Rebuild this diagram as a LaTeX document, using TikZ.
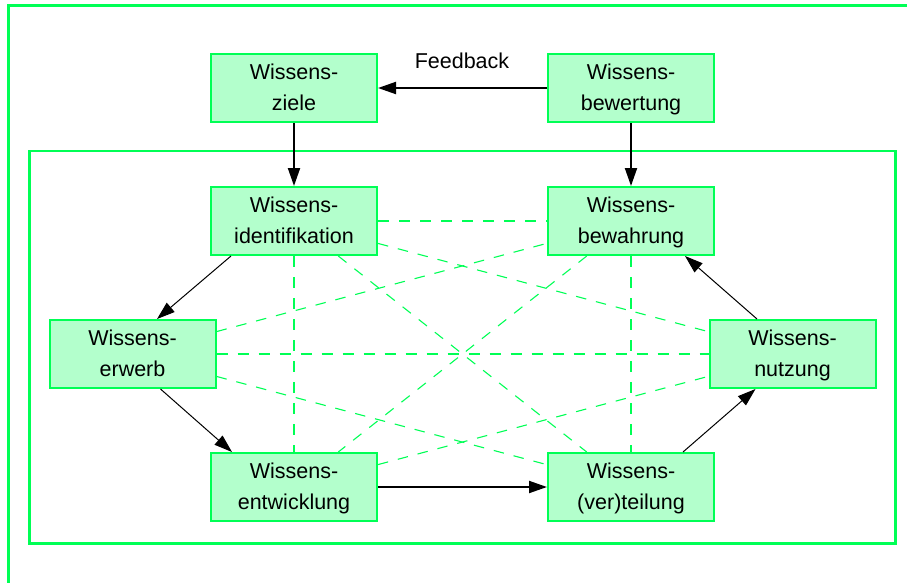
\documentclass[tikz,border=0pt]{standalone}
\usepackage{fontspec}
\setmainfont{Liberation Sans}
\usetikzlibrary{arrows.meta}
\definecolor{kgreen}{RGB}{0,255,85}
\definecolor{kfill}{RGB}{179,255,204}
% two-line box label with fixed baselines
\newcommand{\twolines}[2]{\rule{0pt}{14.5pt}\smash{#1}\\\smash{#2}}
\tikzset{
  kbox/.style={draw=kgreen, line width=2pt, fill=kfill, minimum width=166pt,
    minimum height=68pt, inner sep=0pt, align=center,
    font=\fontsize{21.5}{30.7}\selectfont},
  flow/.style={-{Triangle[length=18pt,width=12pt]}, line width=2pt},
  thinflow/.style={-{Triangle[length=18pt,width=12pt]}, line width=1pt},
  link/.style={draw=kgreen, line width=2pt, dash pattern=on 11pt off 10pt},
  thinlink/.style={draw=kgreen, line width=1.1pt, dash pattern=on 10.5pt off 10pt},
  frame/.style={draw=kgreen, line width=2.5pt},
}
\begin{document}
\begin{tikzpicture}[x=1pt, y=-1pt]
\useasboundingbox (0,0) rectangle (907,582);

% frames
\draw[frame] (8.5,600) -- (8.5,5.5) -- (920,5.5);
\draw[frame] (29.5,151) rectangle (895.5,543.3);

% boxes
\node[kbox] (ziele)  at (294,88)    {\twolines{Wissens-}{ziele}};
\node[kbox] (bewert) at (631,88)    {\twolines{Wissens-}{bewertung}};
\node[kbox] (ident)  at (294,221)   {\twolines{Wissens-}{identifikation}};
\node[kbox] (bewahr) at (631,221)   {\twolines{Wissens-}{bewahrung}};
\node[kbox] (erwerb) at (132.5,354) {\twolines{Wissens-}{erwerb}};
\node[kbox] (nutz)   at (792.5,354) {\twolines{Wissens-}{nutzung}};
\node[kbox] (entw)   at (294,487)   {\twolines{Wissens-}{entwicklung}};
\node[kbox] (verteil) at (631,487)  {\twolines{Wissens-}{(ver)teilung}};

\node[anchor=base, font=\fontsize{21.5}{26}\selectfont] (fb) at (462,68.3) {Feedback};

% dashed relations between the building blocks
\draw[link] (ident) -- (bewahr);
\draw[link] (ident) -- (entw);
\draw[link] (bewahr) -- (verteil);
\draw[link] (erwerb) -- (nutz);
\draw[thinlink] (ident) -- (verteil);
\draw[thinlink] (bewahr) -- (entw);
\draw[thinlink] (erwerb) -- (bewahr);
\draw[thinlink] (erwerb) -- (verteil);
\draw[thinlink] (ident) -- (nutz);
\draw[thinlink] (entw) -- (nutz);

% process arrows
\draw[flow] (bewert.west) -- (ziele.east);
\draw[flow] (ziele.south) -- (ident.north);
\draw[flow] (bewert.south) -- (bewahr.north);
\draw[flow] (entw.east) -- (verteil.west);
\draw[thinflow] ([xshift=21pt]ident.south west) -- ([xshift=108.5pt]erwerb.north west);
\draw[thinflow] ([xshift=112pt]erwerb.south west) -- ([xshift=22pt]entw.north west);
\draw[thinflow] ([xshift=136pt]verteil.north west) -- ([xshift=47pt]nutz.south west);
\draw[thinflow] ([xshift=48.5pt]nutz.north west) -- ([xshift=138pt]bewahr.south west);
\end{tikzpicture}
\end{document}
